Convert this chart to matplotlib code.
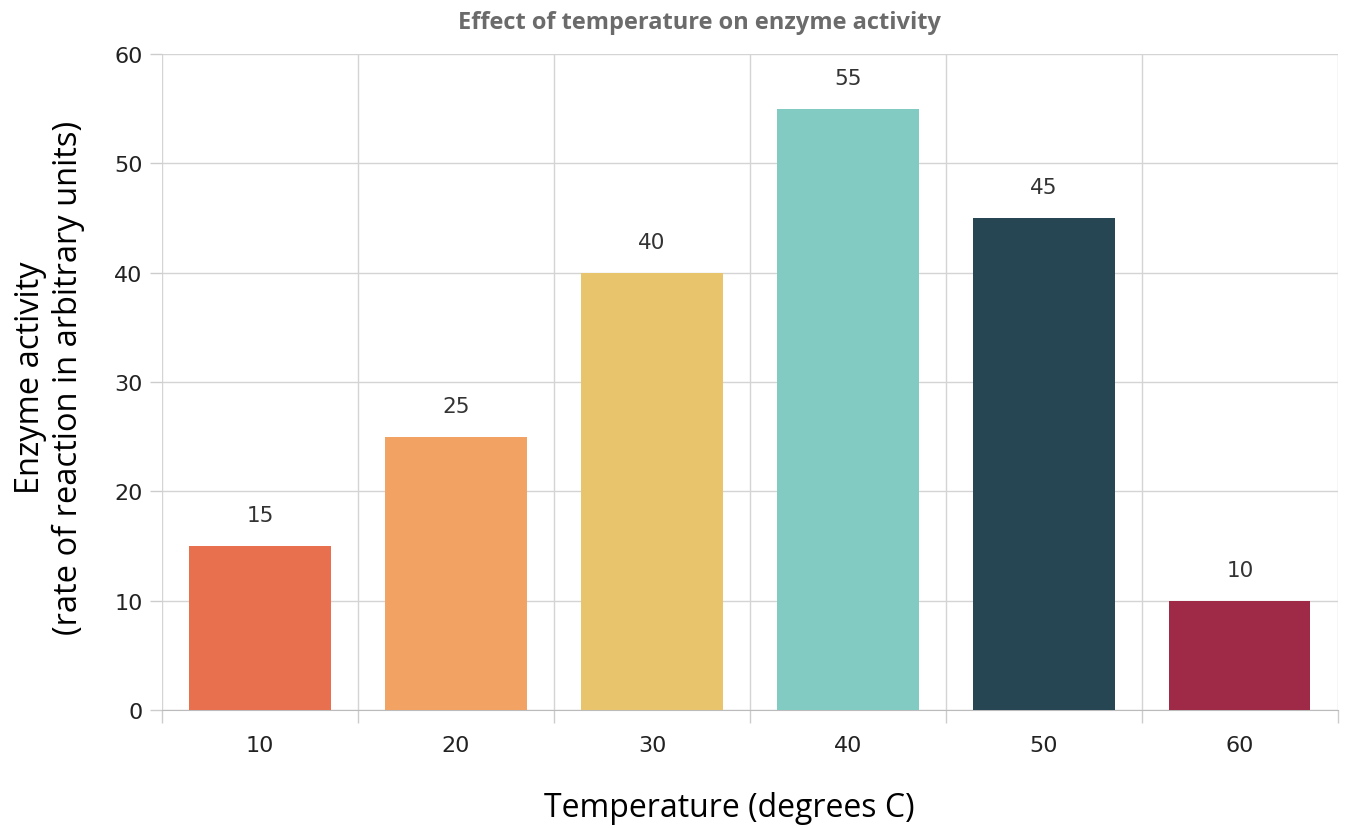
import matplotlib.pyplot as plt
import numpy as np

temps = ['10', '20', '30', '40', '50', '60']
activity = [15, 25, 40, 55, 45, 10]
colors = ['#E8704F', '#F2A262', '#E8C46D', '#82CBC3', '#264653', '#9E2A47']

fig = plt.figure(figsize=(13.46, 8.29), dpi=100)
ax = fig.add_axes([0.1204, 0.1424, 0.8736, 0.7913])

x = np.arange(len(temps))
bars = ax.bar(x, activity, width=0.72, color=colors, zorder=3)
for b, v in zip(bars, activity):
    ax.text(b.get_x() + b.get_width() / 2, v + 1.9, str(v), ha='center', va='bottom',
            fontsize=15.5, color='#333333', family='DejaVu Sans', zorder=4)

ax.set_xlim(-0.5, len(temps) - 0.5)
ax.set_ylim(0, 60)
ax.set_yticks(range(0, 61, 10))
ax.set_xticks(x)
ax.set_xticklabels(temps)
ax.set_xticks(np.arange(-0.5, len(temps)), minor=True)

ax.tick_params(axis='x', which='major', length=0, pad=18, labelsize=16, labelcolor='#222222')
ax.tick_params(axis='x', which='minor', length=9, color='#cccccc', width=1)
ax.tick_params(axis='y', length=9, color='#cccccc', width=1, pad=5, labelsize=16,
               labelcolor='#222222')

ax.grid(axis='y', color='#d4d4d4', linewidth=1, zorder=0)
ax.grid(axis='x', which='minor', color='#d4d4d4', linewidth=1, zorder=0)
for s in ['top', 'right', 'left']:
    ax.spines[s].set_visible(False)
ax.spines['bottom'].set_color('#bbbbbb')

fig.text(0.520, 0.972, 'Effect of temperature on enzyme activity', ha='center', va='center',
         fontsize=17, fontweight='bold', color='#6b6b6b', family='Open Sans')
fig.text(0.037, 0.544, 'Enzyme activity\n(rate of reaction in arbitrary units)', rotation=90,
         ha='center', va='center', fontsize=23.5, color='black', family='Open Sans',
         linespacing=1.2)
fig.text(0.5416, 0.025, 'Temperature (degrees C)', ha='center', va='center',
         fontsize=23, color='black', family='Open Sans')

fig.savefig('out.png', dpi=100)
